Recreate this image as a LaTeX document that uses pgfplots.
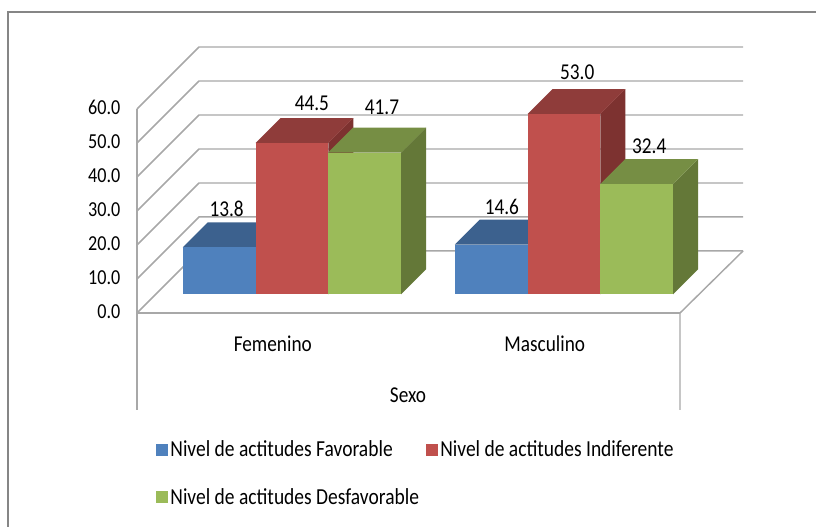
\documentclass[border=0pt]{standalone}
\usepackage{fontspec}
\setmainfont[FakeStretch=0.85]{Carlito}
\usepackage{pgfplots}
\pgfplotsset{compat=1.18}
\definecolor{bluef}{HTML}{4F81BD}\definecolor{bluet}{HTML}{3C618E}
\definecolor{redf}{HTML}{C0504D}\definecolor{redt}{HTML}{8F3C3A}\definecolor{reds}{HTML}{7D3230}
\definecolor{greenf}{HTML}{9BBB59}\definecolor{greent}{HTML}{768E44}\definecolor{greens}{HTML}{647838}
\definecolor{wall}{HTML}{A8A8A8}\definecolor{frame}{HTML}{868686}
\pgfplotsset{
  face/.style={fill=#1,draw=none,forget plot},
  wl/.style={color=wall,line width=1.1pt,no markers,forget plot},
  barf/.style n args={3}{ybar,bar shift=0pt,bar width=54.6pt,fill=#1,draw=none,forget plot,
    nodes near coords,
    every node near coord/.style={anchor=center,xshift=#2,yshift=#3,text=black,font=\fontsize{17}{17}\selectfont,
      /pgf/number format/fixed,/pgf/number format/fixed zerofill,/pgf/number format/precision=1,/pgf/number format/assume math mode=true}},
}
\begin{document}
\begin{tikzpicture}
\begin{axis}[
  scale only axis,width=454.5pt,height=199.5pt,
  xmin=137,xmax=743,ymin=-5.5,ymax=72.74,
  clip=false,
  axis line style={draw=none},
  major tick length=0pt,
  xtick={272,544},xticklabels={Femenino,Masculino},
  ytick={0,10,20,30,40,50,60},
  tick label style={font=\fontsize{17}{17}\selectfont},
  yticklabel style={font=\fontsize{16}{16}\selectfont,/pgf/number format/fixed,/pgf/number format/fixed zerofill,/pgf/number format/precision=1,/pgf/number format/assume math mode=true,anchor=east,xshift=-9pt,yshift=-13pt},
  xticklabel style={anchor=center,xshift=0.6pt,yshift=-23pt},
  xlabel={Sexo},
  every axis x label/.style={at={(axis cs:408,-29.6)},anchor=center,font=\fontsize{17}{17}\selectfont},
  legend style={at={(axis cs:151.5,-41.5)},anchor=north west,draw=none,fill=none,font=\fontsize{17.2}{17.2}\selectfont,
    row sep=18pt,legend cell align=left,inner xsep=3pt,
    /tikz/every even column/.append style={column sep=3pt}},
  legend columns=2,
  legend image code/.code={\fill[#1] (0pt,-4.5pt) rectangle (9pt,4.5pt);},
]
\addlegendimage{fill=bluef,draw=none}\addlegendentry{Nivel de actitudes Favorable}
\addlegendimage{fill=redf,draw=none}\addlegendentry{Nivel de actitudes Indiferente}
\addlegendimage{fill=greenf,draw=none}\addlegendentry{Nivel de actitudes Desfavorable}
% frame and page extent
\path[use as bounding box] (axis cs:0,-68.44) rectangle (axis cs:816,86.56);
\addplot[color=frame,line width=1.5pt,no markers,forget plot] coordinates {(8,-68.44)(8,83)(816,83)};
% walls
\addplot[wl] coordinates {(137,-34)(137,54.5)};
\addplot[wl] coordinates {(680,-34)(680,-5.5)(743,12.74)};
\addplot[wl] coordinates {(137,-5.5)(680,-5.5)};
\addplot[wl] coordinates {(137,-5.5)(199,12.74)(743,12.74)};
\addplot[wl] coordinates {(137,4.5)(199,22.74)(743,22.74)};
\addplot[wl] coordinates {(137,14.5)(199,32.74)(743,32.74)};
\addplot[wl] coordinates {(137,24.5)(199,42.74)(743,42.74)};
\addplot[wl] coordinates {(137,34.5)(199,52.74)(743,52.74)};
\addplot[wl] coordinates {(137,44.5)(199,62.74)(743,62.74)};
\addplot[wl] coordinates {(137,54.5)(199,72.74)(743,72.74)};
% Femenino
\addplot[face=bluet] coordinates {(182.8,13.8)(255.6,13.8)(280.6,21.15)(207.8,21.15)} --cycle;
\addplot[barf={bluef}{5.6pt}{29pt}] coordinates {(219.2,13.8)};
\addplot[face=reds] coordinates {(328.3,0)(353.3,7.35)(353.3,51.85)(328.3,44.5)} --cycle;
\addplot[face=redt] coordinates {(255.5,44.5)(328.3,44.5)(353.3,51.85)(280.5,51.85)} --cycle;
\addplot[barf={redf}{15pt}{30pt}] coordinates {(291.9,44.5)};
\addplot[face=greens] coordinates {(401,0)(426,7.35)(426,49.05)(401,41.7)} --cycle;
\addplot[face=greent] coordinates {(328.2,41.7)(401,41.7)(426,49.05)(353.2,49.05)} --cycle;
\addplot[barf={greenf}{13pt}{34pt}] coordinates {(364.6,41.7)};
% Masculino
\addplot[face=bluet] coordinates {(454.8,14.6)(527.6,14.6)(552.6,21.95)(479.8,21.95)} --cycle;
\addplot[barf={bluef}{8pt}{28pt}] coordinates {(491.2,14.6)};
\addplot[face=reds] coordinates {(600.3,0)(625.3,7.35)(625.3,60.35)(600.3,53)} --cycle;
\addplot[face=redt] coordinates {(527.5,53)(600.3,53)(625.3,60.35)(552.5,60.35)} --cycle;
\addplot[barf={redf}{10pt}{31.5pt}] coordinates {(563.9,53)};
\addplot[face=greens] coordinates {(673,0)(698,7.35)(698,39.75)(673,32.4)} --cycle;
\addplot[face=greent] coordinates {(600.2,32.4)(673,32.4)(698,39.75)(625.2,39.75)} --cycle;
\addplot[barf={greenf}{9.5pt}{28.5pt}] coordinates {(636.6,32.4)};
\end{axis}
\end{tikzpicture}
\end{document}
